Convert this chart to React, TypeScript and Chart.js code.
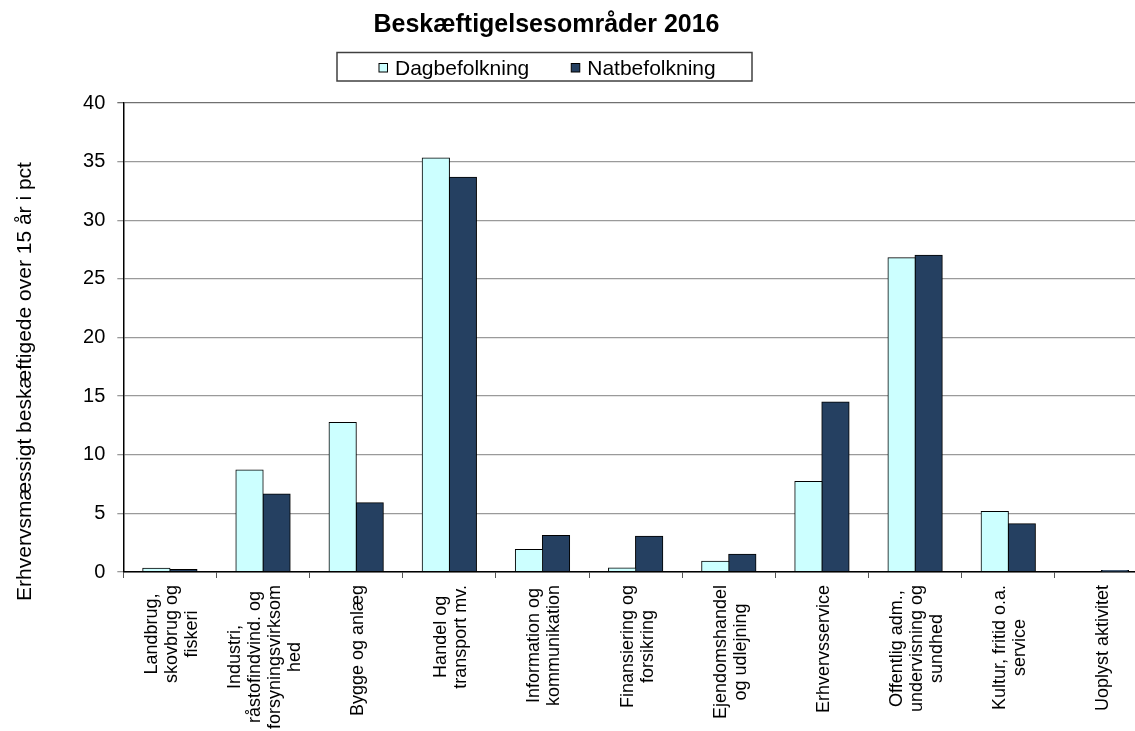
import React, { useEffect, useRef } from "react";
import { Chart, registerables } from "chart.js";

Chart.register(...registerables);

// ---------- data ----------
const categories: string[][] = [
  ["Landbrug,", "skovbrug og", "fiskeri"],
  ["Industri,", "råstofindvind. og", "forsyningsvirksom", "hed"],
  ["Bygge og anlæg"],
  ["Handel og", "transport mv."],
  ["Information og", "kommunikation"],
  ["Finansiering og", "forsikring"],
  ["Ejendomshandel", "og udlejning"],
  ["Erhvervsservice"],
  ["Offentlig adm.,", "undervisning og", "sundhed"],
  ["Kultur, fritid o.a.", "service"],
  ["Uoplyst aktivitet"],
];
const seriesNames = ["Dagbefolkning", "Natbefolkning"];
const dagbefolkning = [0.32, 8.7, 12.75, 35.3, 1.9, 0.33, 0.9, 7.7, 26.8, 5.15, 0];
const natbefolkning = [0.2, 6.65, 5.9, 33.65, 3.1, 3.05, 1.5, 14.5, 27.0, 4.1, 0.12];
const yMin = 0;
const yMax = 40;
const yStep = 5;
const chartTitle = "Beskæftigelsesområder 2016";
const yTitle = "Erhvervsmæssigt beskæftigede over 15 år i pct";

const FONT = "'Liberation Sans', Arial, Helvetica, sans-serif";
const DAG_COLOR = "#CCFFFF";
const NAT_COLOR = "#254061";

const decorPlugin = {
  id: "decor",
  afterDraw(chart: any) {
    const ctx: CanvasRenderingContext2D = chart.ctx;
    const xScale = chart.scales.x;
    ctx.save();
    ctx.fillStyle = "#000";

    // Title
    ctx.font = `bold 25px ${FONT}`;
    ctx.textAlign = "center";
    ctx.textBaseline = "alphabetic";
    ctx.fillText(chartTitle, 546.5, 32);

    // Legend box
    ctx.lineWidth = 1.5;
    ctx.strokeStyle = "#404040";
    ctx.strokeRect(337, 52.5, 415, 28.5);
    ctx.font = `21px ${FONT}`;
    ctx.textAlign = "left";
    let lx = 379;
    chart.data.datasets.forEach((ds: any) => {
      ctx.fillStyle = ds.backgroundColor;
      ctx.fillRect(lx, 63.5, 8.5, 8.5);
      ctx.lineWidth = 1;
      ctx.strokeStyle = "#000";
      ctx.strokeRect(lx, 63.5, 8.5, 8.5);
      ctx.fillStyle = "#000";
      ctx.fillText(ds.label, lx + 16, 74.5);
      lx += 16 + ctx.measureText(ds.label).width + 42;
    });

    // Y axis title
    ctx.save();
    ctx.translate(25, 381.5);
    ctx.rotate(-Math.PI / 2);
    ctx.font = `21px ${FONT}`;
    ctx.textAlign = "center";
    ctx.textBaseline = "middle";
    ctx.fillText(yTitle, 0, 0);
    ctx.restore();

    // X category labels (rotated, centred lines)
    ctx.font = `18px ${FONT}`;
    const labels: string[][] = chart.data.labels;
    labels.forEach((lines, i) => {
      const cx = xScale.getPixelForValue(i) + 2;
      const maxW = Math.max(...lines.map((l) => ctx.measureText(l).width));
      const cy = 585 + maxW / 2;
      lines.forEach((line, j) => {
        const px = cx + (j - (lines.length - 1) / 2) * 20;
        ctx.save();
        ctx.translate(px, cy);
        ctx.rotate(-Math.PI / 2);
        ctx.textAlign = "center";
        ctx.textBaseline = "middle";
        ctx.fillText(line, 0, 0);
        ctx.restore();
      });
    });
    ctx.restore();
  },
};

export default function App() {
  const canvasRef = useRef<HTMLCanvasElement | null>(null);

  useEffect(() => {
    if (!canvasRef.current) return;
    Chart.defaults.font.family = FONT;
    const barStyle = {
      borderColor: "#000",
      borderWidth: 1,
      borderSkipped: false as const,
      inflateAmount: 0.6,
      categoryPercentage: 0.58,
      barPercentage: 1,
    };
    const chart = new Chart(canvasRef.current, {
      type: "bar",
      data: {
        labels: categories as any,
        datasets: [
          {
            label: seriesNames[0],
            data: dagbefolkning,
            backgroundColor: DAG_COLOR,
            ...barStyle,
          },
          {
            label: seriesNames[1],
            data: natbefolkning,
            backgroundColor: NAT_COLOR,
            ...barStyle,
          },
        ],
      },
      options: {
        responsive: false,
        animation: false,
        devicePixelRatio: 1,
        layout: { padding: { top: 103, left: 0, right: 0, bottom: 0 } },
        plugins: {
          legend: { display: false },
          title: { display: false },
          tooltip: { enabled: false },
        },
        scales: {
          x: {
            grid: {
              display: true,
              drawOnChartArea: false,
              drawTicks: true,
              tickLength: 6,
              color: "#555",
              offset: true,
            },
            border: { display: true, color: "#000", width: 1.5 },
            ticks: { display: false },
            afterFit: (s: any) => {
              s.height = 159;
            },
          },
          y: {
            min: yMin,
            max: yMax,
            ticks: {
              stepSize: yStep,
              color: "#000",
              padding: 12,
              font: { size: 20, family: FONT },
            },
            grid: {
              color: (c: any) => (c.tick && c.tick.value === yMax ? "#707070" : "#9a9a9a"),
              lineWidth: 1.3,
              tickLength: 6,
            },
            border: { display: true, color: "#000", width: 1.5 },
            afterFit: (s: any) => {
              s.width = 123.3;
            },
          },
        },
      },
      plugins: [decorPlugin],
    });
    return () => chart.destroy();
  }, []);

  return (
    <div
      style={{
        position: "fixed",
        left: 0,
        top: 0,
        width: 1135,
        height: 731,
        overflow: "hidden",
        background: "#fff",
      }}
    >
      <canvas
        ref={canvasRef}
        width={1148}
        height={731}
        style={{ width: 1148, height: 731, display: "block" }}
      />
    </div>
  );
}
